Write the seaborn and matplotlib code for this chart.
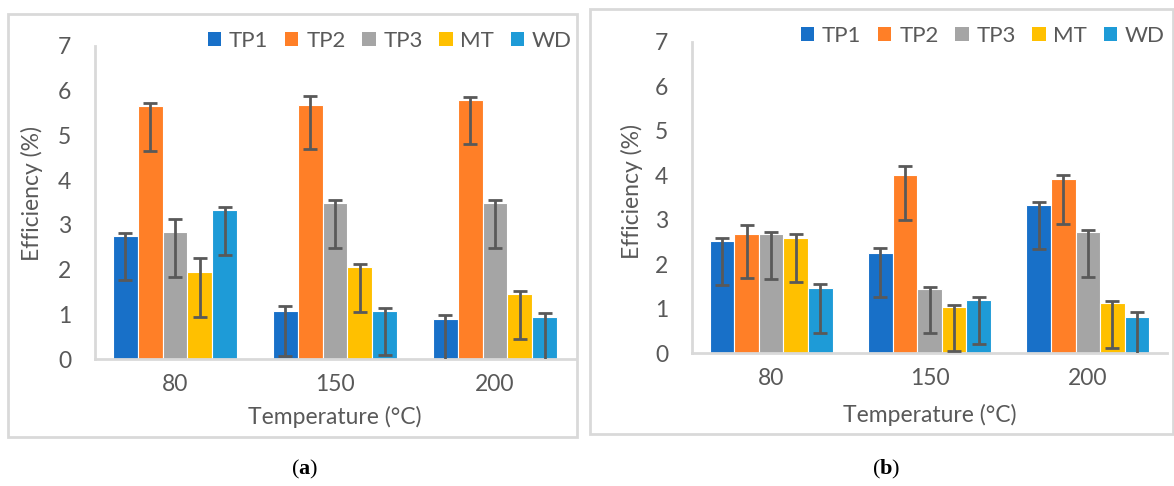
import matplotlib
matplotlib.use("Agg")
import matplotlib.pyplot as plt
from matplotlib.patches import Rectangle, Patch
import pandas as pd
import seaborn as sns

# Categories and series
temperatures = ["80", "150", "200"]
series = ["TP1", "TP2", "TP3", "MT", "WD"]
colors = ["#1870C8", "#FF7F27", "#A5A5A5", "#FFC000", "#1E9BD7"]

# Panel (a): efficiency (%) per series at each temperature
a_TP1 = [2.76, 1.07, 0.89]
a_TP2 = [5.65, 5.69, 5.80]
a_TP3 = [2.84, 3.48, 3.49]
a_MT = [1.94, 2.05, 1.45]
a_WD = [3.33, 1.08, 0.95]
# upper / lower error amounts
a_up_TP1 = [0.06, 0.11, 0.09]
a_up_TP2 = [0.07, 0.20, 0.07]
a_up_TP3 = [0.30, 0.08, 0.06]
a_up_MT = [0.31, 0.08, 0.06]
a_up_WD = [0.08, 0.05, 0.08]
a_low = [1.0, 1.0, 1.0]

# Panel (b)
b_TP1 = [2.53, 2.26, 3.33]
b_TP2 = [2.68, 4.00, 3.91]
b_TP3 = [2.67, 1.44, 2.72]
b_MT = [2.59, 1.04, 1.12]
b_WD = [1.46, 1.20, 0.82]
b_up_TP1 = [0.05, 0.11, 0.07]
b_up_TP2 = [0.21, 0.21, 0.09]
b_up_TP3 = [0.06, 0.05, 0.05]
b_up_MT = [0.08, 0.05, 0.04]
b_up_WD = [0.10, 0.05, 0.10]
b_low = [1.0, 1.0, 1.0]

y_ticks = [0, 1, 2, 3, 4, 5, 6, 7]

TEXT = "#595959"
AXIS = "#D9D9D9"

sns.set_theme(style="white")
plt.rcParams["font.family"] = ["Lato", "DejaVu Sans"]
plt.rcParams["mathtext.fontset"] = "custom"
plt.rcParams["mathtext.rm"] = "Liberation Serif"
plt.rcParams["mathtext.bf"] = "Liberation Serif:bold"

W, H = 1174, 486
fig = plt.figure(figsize=(W / 100, H / 100), dpi=100)
fig.patch.set_facecolor("white")


def frac(x0, y0, x1, y1):
    """pixel box (top-left origin) -> figure fraction rect"""
    return [x0 / W, (H - y1) / H, (x1 - x0) / W, (y1 - y0) / H]


def draw_panel(ax, vals, ups, lows, ylab_xy, xlab_y, legend_xy):
    df = pd.DataFrame({
        "Temperature": [t for s in series for t in temperatures],
        "Series": [s for s in series for t in temperatures],
        "Efficiency": [v for s in series for v in vals[s]],
    })
    sns.barplot(data=df, x="Temperature", y="Efficiency", hue="Series",
                order=temperatures, hue_order=series, palette=colors,
                width=0.775, errorbar=None, edgecolor="white", linewidth=0.8,
                saturation=1, legend=False, ax=ax)
    for container, s in zip(ax.containers, series):
        xs = [b.get_x() + b.get_width() / 2 for b in container]
        ax.errorbar(xs, vals[s], yerr=[lows, ups[s]], fmt="none",
                    ecolor=TEXT, elinewidth=2, capsize=5, capthick=2, zorder=5)
    ax.set_xlim(-0.5, 2.5)
    ax.set_ylim(0, 7)
    ax.set_yticks(y_ticks)
    ax.set_yticklabels([str(t) for t in y_ticks])
    for side in ("top", "right"):
        ax.spines[side].set_visible(False)
    for side in ("left", "bottom"):
        ax.spines[side].set_color(AXIS)
        ax.spines[side].set_linewidth(2)
    ax.tick_params(axis="both", length=0, labelsize=16.5, labelcolor=TEXT)
    ax.tick_params(axis="y", pad=17)
    ax.tick_params(axis="x", pad=11)
    ax.set_ylabel("Efficiency (%)", fontsize=16.5, color=TEXT)
    ax.yaxis.set_label_coords(*ylab_xy)
    ax.set_xlabel("Temperature (°C)", fontsize=16.5, color=TEXT)
    ax.xaxis.set_label_coords(0.5, xlab_y)
    handles = [Patch(facecolor=c, edgecolor="none", label=s) for s, c in zip(series, colors)]
    leg = fig.legend(handles=handles, loc="center", bbox_to_anchor=legend_xy,
                     ncol=5, frameon=False, fontsize=16, handlelength=0.6,
                     handleheight=0.6, handletextpad=0.35, columnspacing=0.75,
                     borderpad=0, borderaxespad=0, labelcolor=TEXT)
    return leg


ax_a = fig.add_axes(frac(95, 46, 575, 359))
ax_b = fig.add_axes(frac(692, 42, 1167, 353))

vals_a = {"TP1": a_TP1, "TP2": a_TP2, "TP3": a_TP3, "MT": a_MT, "WD": a_WD}
ups_a = {"TP1": a_up_TP1, "TP2": a_up_TP2, "TP3": a_up_TP3, "MT": a_up_MT, "WD": a_up_WD}
vals_b = {"TP1": b_TP1, "TP2": b_TP2, "TP3": b_TP3, "MT": b_MT, "WD": b_WD}
ups_b = {"TP1": b_up_TP1, "TP2": b_up_TP2, "TP3": b_up_TP3, "MT": b_up_MT, "WD": b_up_WD}

draw_panel(ax_a, vals_a, ups_a, a_low, (-0.108, 0.53), -0.150, (390 / W, 1 - 41 / H))
draw_panel(ax_b, vals_b, ups_b, b_low, (-0.103, 0.518), -0.163, (983 / W, 1 - 36 / H))

# panel frames
for x0, y0, x1, y1 in [(8, 14, 577, 437), (590, 9, 1173, 434)]:
    fig.add_artist(Rectangle((x0 / W, (H - y1) / H), (x1 - x0) / W, (y1 - y0) / H,
                             transform=fig.transFigure, fill=False,
                             edgecolor=AXIS, linewidth=2))

# panel captions
fig.text(305 / W, 1 - 469 / H, r"$\mathrm{(}\mathbf{a}\mathrm{)}$", ha="center",
         va="center", fontsize=16, color="black")
fig.text(886 / W, 1 - 469 / H, r"$\mathrm{(}\mathbf{b}\mathrm{)}$", ha="center",
         va="center", fontsize=16, color="black")

fig.savefig("out.png", dpi=100, facecolor="white")
